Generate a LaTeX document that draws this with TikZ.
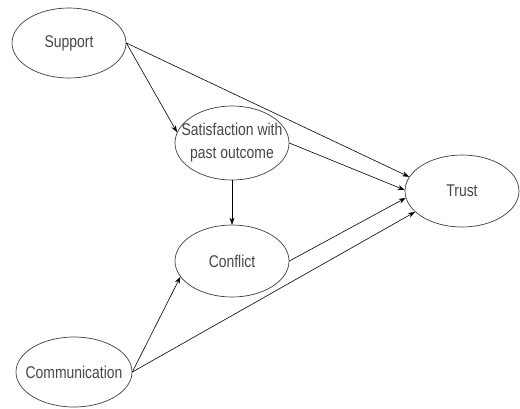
\documentclass[tikz,border=0pt]{standalone}
\usepackage{fontspec}
\setmainfont[FakeStretch=0.82]{Liberation Sans}
\usetikzlibrary{shapes.geometric,arrows.meta}
\begin{document}
\begin{tikzpicture}[x=1pt,y=-1pt,
  ell/.style={ellipse, draw=black!75, line width=0.7pt, minimum width=114pt, minimum height=72pt, inner sep=0pt},
  lbl/.style={font=\fontsize{17}{23}\selectfont, text=black!72, align=center},
  arr/.style={-{Stealth[length=7pt,width=5pt]}, line width=0.6pt}]
\useasboundingbox[fill=white] (0,0) rectangle (520,408);
\node[ell, minimum height=70pt, label={[lbl]center:Support}] (sup) at (69,43) {};
\node[ell, minimum height=74pt, label={[lbl]center:{Satisfaction with\\past outcome}}] (sat) at (232,143) {};
\node[ell, label={[lbl]center:Conflict}] (con) at (232,261) {};
\node[ell, minimum width=116pt, minimum height=70pt, label={[lbl]center:Communication}] (com) at (74,372) {};
\node[ell, label={[lbl]center:Trust}] (tru) at (462,191) {};
\draw[arr] (sup.east) -- (sat.169);
\draw[arr] (sup.east) -- (tru.165);
\draw[arr] (sat.east) -- (tru.179);
\draw[arr] (sat.south) -- (con.north);
\draw[arr] (con.east) -- (tru.187);
\draw[arr] (com.east) -- (con.197);
\draw[arr] (com.east) -- (tru.204);
\end{tikzpicture}
\end{document}
